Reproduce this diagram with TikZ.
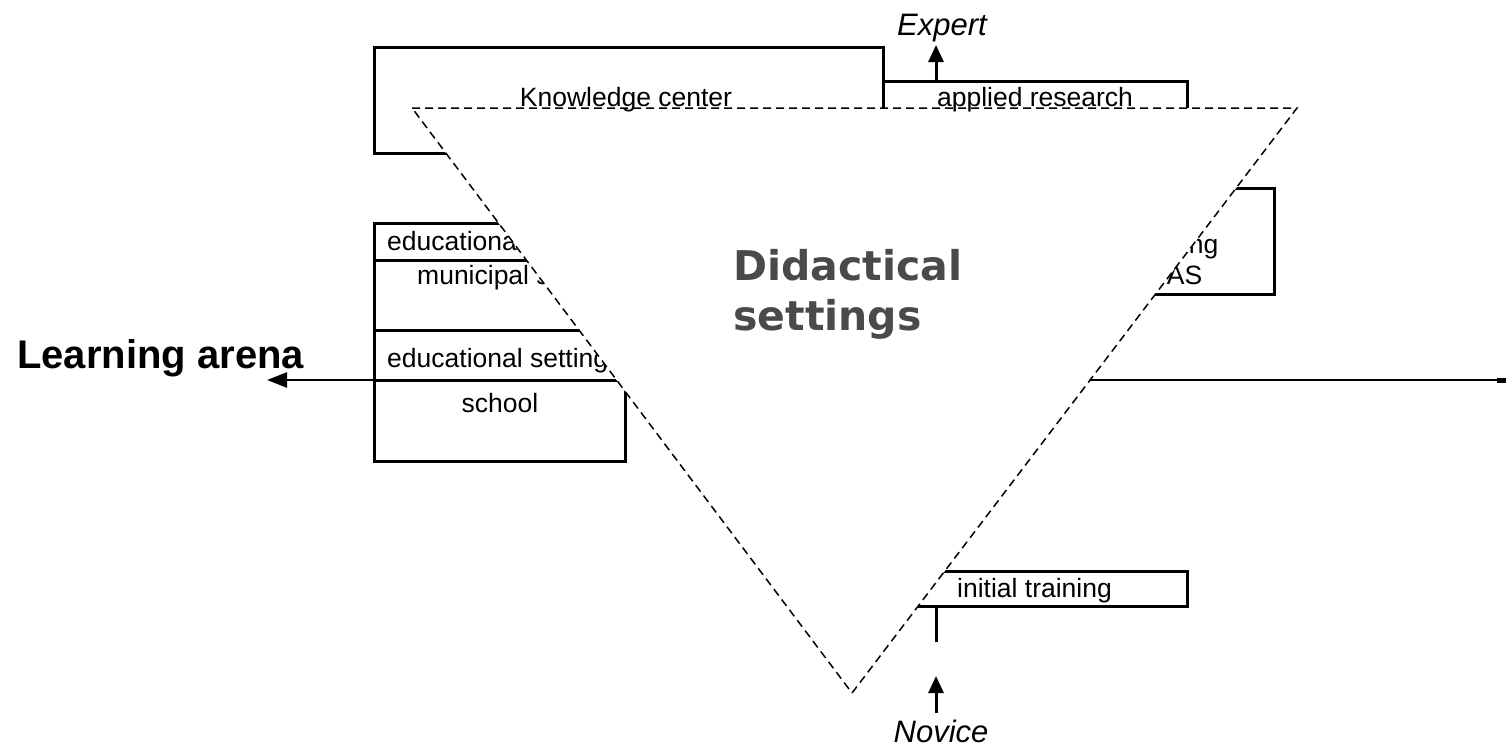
\documentclass[tikz,border=0pt]{standalone}
\usepackage{fontspec}
\setmainfont{Liberation Sans}
\newfontfamily\dejavu{DejaVu Sans}
\usetikzlibrary{arrows.meta}
\definecolor{didgray}{HTML}{4A4A4A}
\begin{document}
\begin{tikzpicture}[x=1pt,y=-1pt,
 box/.style={line width=3pt},
 lbl/.style={font=\fontsize{26.5}{31}\selectfont, inner sep=0pt, anchor=base},
 lblw/.style={lbl, anchor=base west},
 tri/.style={dash pattern=on 8pt off 5pt, line width=1.5pt, fill=white},
 arr/.style={-{Triangle[length=17pt,width=15pt]}, line width=3pt},
 endlbl/.style={font=\fontsize{31}{35}\selectfont\itshape, inner sep=0pt, anchor=base},
 didlbl/.style={font=\dejavu\bfseries\fontsize{41}{50}\selectfont, text=didgray, inner sep=0pt, anchor=base west}
]
\fill[white] (0,0) rectangle (1506,747);
\useasboundingbox (0,0) rectangle (1506,747);

% boxes
\draw[box] (374,47) rectangle (883,153);
\draw[box] (883,81) rectangle (1187,150);
\draw[box] (1076,188) rectangle (1274,294);
\draw[box] (374,223) rectangle (625,461);
\draw[box] (374,260) -- (625,260);
\draw[box] (374,330) -- (625,330);
\draw[box] (374,380) -- (625,380);
\draw[box] (872,571) rectangle (1187,606);

% learning arena axis
\coordinate (arenaR) at (1506,380);
\coordinate (arenaTip) at (267,380);
\draw[line width=2.4pt, -{Triangle[length=20pt,width=15pt]}] (arenaR) -- (arenaTip);
\draw[line width=5pt] (1497,380) -- (arenaR);

% texts partly covered by the triangle
\node[lblw] (edu1) at (387,250) {educational setting};
\node[lblw] (muni) at (417,284) {municipal setting};
\node[lblw] (edu2) at (387,367) {educational setting};
\node[lbl] (school) at (500,412) {school};
\node[lbl] (train) at (1175,253) {training};
\node[lbl] (uas) at (1175,284) {UAS};

% triangle
\draw[tri] (412,108) -- (1297,108) -- (852,693) -- cycle;

% labels
\node[lbl] (know) at (626,106) {Knowledge center};
\node[lbl] (appl) at (1035,106) {applied research};
\node[lblw] (init) at (957,597) {initial training};

\node[didlbl] (did1) at (733,280) {Didactical};
\node[didlbl] (did2) at (733,330) {settings};

\node[font=\bfseries\fontsize{40}{46}\selectfont, inner sep=0pt, anchor=base west] (arena) at (17,368) {Learning arena};

% expert / novice
\node[endlbl] (expert) at (942,35) {Expert};
\node[endlbl] (novice) at (941,742) {Novice};
\coordinate (expTail) at (936,81);
\coordinate (expTip) at (936,45);
\draw[arr] (expTail) -- (expTip);
\coordinate (initStem) at (936,606);
\coordinate (initStemEnd) at (936,642);
\draw[box] (initStem) -- (initStemEnd);
\coordinate (novTail) at (936,713);
\coordinate (novTip) at (936,676);
\draw[arr] (novTail) -- (novTip);
\end{tikzpicture}
\end{document}
